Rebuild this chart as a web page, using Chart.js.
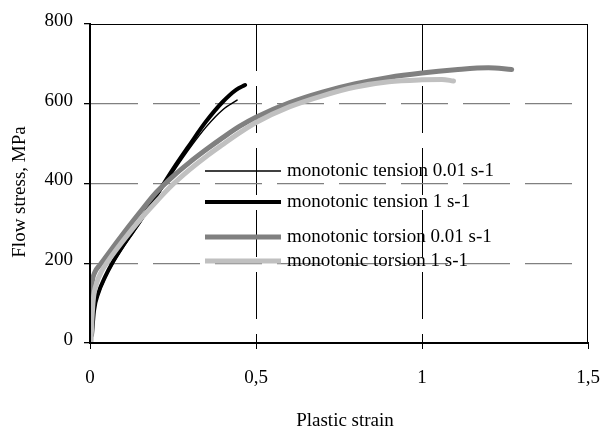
<!DOCTYPE html>
<html>
<head>
<meta charset="utf-8">
<script src="https://cdn.jsdelivr.net/npm/chart.js@4.4.1/dist/chart.umd.min.js"></script>
<style>
  html, body { margin: 0; padding: 0; background: #ffffff; }
  #wrap { width: 602px; height: 428px; }
</style>
</head>
<body>
<div id="wrap"><canvas id="c" width="602" height="428"></canvas></div>
<script>
// ---- Data ----
const seriesLabels = [
  "monotonic tension 0.01 s-1",
  "monotonic tension 1 s-1",
  "monotonic torsion 0.01 s-1",
  "monotonic torsion 1 s-1"
];

const tension001Strain = [0.004, 0.012, 0.025, 0.045, 0.07, 0.1, 0.15, 0.2, 0.25, 0.3, 0.35, 0.4, 0.443];
const tension001Stress = [20, 80, 120, 160, 200, 240, 300, 365, 428, 488, 542, 585, 609];

const tension1Strain = [0.006, 0.012, 0.025, 0.045, 0.07, 0.1, 0.15, 0.2, 0.25, 0.3, 0.35, 0.4, 0.44, 0.467];
const tension1Stress = [20, 80, 125, 165, 205, 245, 305, 370, 436, 497, 556, 605, 635, 647];

const torsion001Strain = [0, 0.003, 0.008, 0.015, 0.03, 0.05, 0.08, 0.12, 0.16, 0.2, 0.25, 0.3, 0.35, 0.4, 0.45, 0.5, 0.6, 0.7, 0.8, 0.9, 1.0, 1.1, 1.2, 1.27];
const torsion001Stress = [30, 120, 160, 178, 196, 218, 252, 296, 338, 378, 418, 453, 485, 515, 543, 566, 602, 629, 650, 666, 677, 685, 690, 686];

const torsion1Strain = [0.003, 0.006, 0.01, 0.02, 0.035, 0.05, 0.08, 0.12, 0.16, 0.2, 0.25, 0.3, 0.35, 0.4, 0.45, 0.5, 0.6, 0.7, 0.8, 0.9, 1.0, 1.06, 1.095];
const torsion1Stress = [0, 60, 110, 150, 180, 200, 235, 278, 318, 355, 398, 435, 468, 498, 527, 553, 592, 620, 642, 655, 660, 661, 657];

const xTickValues = [0, 0.5, 1, 1.5];
const yTickValues = [0, 200, 400, 600, 800];
const xAxisTitle = "Plastic strain";
const yAxisTitle = "Flow stress, MPa";

// ---- Build points ----
function pts(xs, ys) { return xs.map((x, i) => ({ x: x, y: ys[i] })); }

const FONT = "'Liberation Serif', 'Times New Roman', serif";
Chart.defaults.font.family = FONT;
Chart.defaults.font.size = 19;
Chart.defaults.color = '#000000';

const datasets = [
  { label: seriesLabels[0], data: pts(tension001Strain, tension001Stress), borderColor: '#000000', borderWidth: 1.5, order: 2 },
  { label: seriesLabels[1], data: pts(tension1Strain, tension1Stress), borderColor: '#000000', borderWidth: 4, order: 3 },
  { label: seriesLabels[2], data: pts(torsion001Strain, torsion001Stress), borderColor: '#808080', borderWidth: 5, order: 1 },
  { label: seriesLabels[3], data: pts(torsion1Strain, torsion1Stress), borderColor: '#c0c0c0', borderWidth: 5, order: 0 }
].map(d => Object.assign(d, { showLine: true, pointRadius: 0, pointHoverRadius: 0, fill: false, cubicInterpolationMode: 'monotone', borderCapStyle: 'round', borderJoinStyle: 'round' }));

// Legend drawn inside the plot area
const legendPlugin = {
  id: 'insideLegend',
  afterDatasetsDraw(chart) {
    const ctx = chart.ctx;
    const rows = [171, 202, 237, 261];
    ctx.save();
    ctx.font = '19px ' + FONT;
    ctx.textBaseline = 'middle';
    ctx.fillStyle = '#000';
    chart.data.datasets.forEach((ds, i) => {
      const y = rows[i];
      ctx.beginPath();
      ctx.strokeStyle = ds.borderColor;
      ctx.lineWidth = ds.borderWidth;
      ctx.lineCap = 'butt';
      ctx.moveTo(205, y);
      ctx.lineTo(281, y);
      ctx.stroke();
      ctx.fillText(ds.label, 287, y);
    });
    ctx.restore();
  }
};

// Frame + axis titles
const framePlugin = {
  id: 'frame',
  afterDraw(chart) {
    const a = chart.chartArea;
    const ctx = chart.ctx;
    ctx.save();
    ctx.strokeStyle = '#000';
    ctx.lineWidth = 1;
    ctx.strokeRect(Math.round(a.left) + 0.5, Math.round(a.top) + 0.5, Math.round(a.right - a.left) - 1, Math.round(a.bottom - a.top) - 1);
    ctx.font = '19px ' + FONT;
    ctx.fillStyle = '#000';
    ctx.textAlign = 'center';
    ctx.textBaseline = 'middle';
    ctx.fillText(xAxisTitle, 345, 421);
    ctx.translate(20, 192);
    ctx.rotate(-Math.PI / 2);
    ctx.fillText(yAxisTitle, 0, 0);
    ctx.restore();
  }
};

new Chart(document.getElementById('c'), {
  type: 'scatter',
  data: { datasets: datasets },
  plugins: [legendPlugin, framePlugin],
  options: {
    responsive: false,
    animation: false,
    events: [],
    layout: { padding: { top: 24, right: 14, left: 0, bottom: 0 } },
    plugins: { legend: { display: false }, tooltip: { enabled: false } },
    scales: {
      x: {
        type: 'linear', min: 0, max: 1.5,
        afterFit(s) { s.height = 85; s.paddingLeft = 0; s.paddingRight = 0; },
        afterBuildTicks(s) { s.ticks = xTickValues.map(v => ({ value: v })); },
        ticks: {
          padding: 18, maxRotation: 0, autoSkip: false,
          font: { size: 19 },
          callback: v => String(v).replace('.', ',')
        },
        grid: {
          color: c => (c.tick && (c.tick.value === 0 || c.tick.value === 1.5)) ? 'rgba(0,0,0,0)' : '#000000',
          lineWidth: 1, tickLength: 6, tickColor: '#000000', tickBorderDash: []
        },
        border: { display: true, color: '#000000', width: 2, dash: [47, 15] }
      },
      y: {
        type: 'linear', min: 0, max: 800,
        afterFit(s) { s.width = 90; s.paddingTop = 0; s.paddingBottom = 0; },
        afterBuildTicks(s) { s.ticks = yTickValues.map(v => ({ value: v })); },
        ticks: { padding: 11, labelOffset: -3, font: { size: 19 } },
        grid: {
          color: c => (c.tick && (c.tick.value === 0 || c.tick.value === 800)) ? 'rgba(0,0,0,0)' : '#808080',
          lineWidth: 1.3, tickLength: 6, tickColor: '#000000', tickBorderDash: []
        },
        border: { display: true, color: '#000000', width: 2, dash: [47, 15] }
      }
    }
  }
});
</script>
</body>
</html>
